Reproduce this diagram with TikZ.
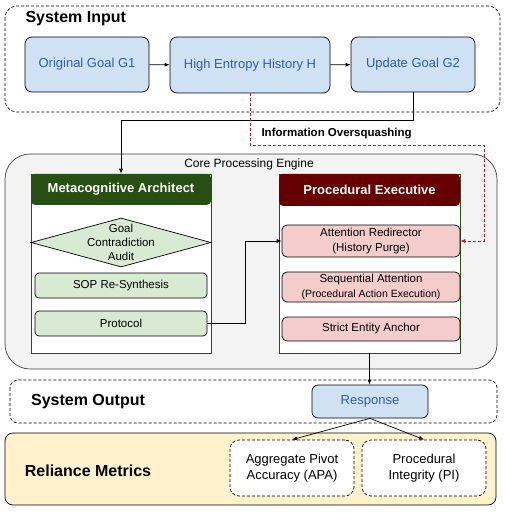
\documentclass[tikz,border=0pt]{standalone}
\usepackage{fontspec}
\setmainfont{Liberation Sans}
\usetikzlibrary{arrows.meta,shapes.geometric,positioning}

\definecolor{inblue}{HTML}{CFE2F3}
\definecolor{intext}{HTML}{2B5EA6}
\definecolor{metagreen}{HTML}{274E13}
\definecolor{lightgreen}{HTML}{D9EAD3}
\definecolor{procred}{HTML}{660000}
\definecolor{lightred}{HTML}{F4CCCC}
\definecolor{coregray}{HTML}{F3F3F3}
\definecolor{metricyellow}{HTML}{FFF2CC}
\definecolor{squashred}{HTML}{B41E1E}

\tikzset{
  fs/.style={font=\fontsize{#1}{14}\selectfont},
  arr/.style={-{Latex[length=5pt,width=4pt]}, line width=0.7pt},
  dashbox/.style={draw, dash pattern=on 3pt off 2pt, line width=0.7pt},
  inputbox/.style={draw, fill=inblue, text=intext, rounded corners=7pt,
    line width=0.7pt, font=\fontsize{13}{15}\selectfont},
  panel/.style={draw=metagreen, fill=white, line width=0.7pt,
    minimum height=179pt, inner sep=0pt},
  header/.style={rounded corners=4pt, text=white, anchor=north,
    font=\bfseries\fontsize{13}{15}\selectfont},
  metastep/.style={draw, fill=lightgreen, rounded corners=4pt, line width=0.7pt,
    minimum width=172pt, minimum height=25pt, font=\fontsize{11.5}{14}\selectfont},
  procstep/.style={draw, fill=lightred, rounded corners=5pt, line width=0.7pt,
    minimum width=178pt, align=center, inner sep=1pt,
    font=\fontsize{11.5}{14.3}\selectfont},
  metric/.style={dashbox, fill=white, rounded corners=9pt, minimum width=124pt,
    minimum height=56pt, align=center, font=\fontsize{13}{16.7}\selectfont},
  grouptitle/.style={font=\bfseries\fontsize{16}{19}\selectfont},
}

\begin{document}
\begin{tikzpicture}[x=1pt,y=-1pt]
  \useasboundingbox (0,0) rectangle (505,513);

  % system input
  \draw[dashbox, rounded corners=12pt] (5,6) rectangle (500,112);
  \node[grouptitle, anchor=west] (inputtitle) at (22,19) {System Input};
  \node[inputbox, minimum width=124pt, minimum height=55pt] (goalone) at (87,64.5) {Original Goal G1};
  \node[inputbox, minimum width=160pt, minimum height=56pt] (history) at (250,65) {High Entropy History H};
  \node[inputbox, minimum width=124pt, minimum height=55pt] (goaltwo) at (413,64.5) {Update Goal G2};

  % core processing engine
  \draw[fill=coregray, draw=black!75, line width=0.7pt, rounded corners=25pt] (5,154) rectangle (497,369);
  \node[fs=12] (coretitle) at (249,164) {Core Processing Engine};

  \node[panel, minimum width=180pt] (metapanel) at (121,263.5) {};
  \node[header, fill=metagreen, minimum width=180pt, minimum height=31pt] (metahead) at (metapanel.north) {Metacognitive Architect};
  \node[diamond, draw, fill=lightgreen, line width=0.7pt, minimum width=180pt, minimum height=49pt, inner sep=0pt] (audit) at (121,242.5) {};
  \node[align=center, fs=11.5] (audittext) at (audit) {Goal\\Contradiction\\Audit};
  \node[metastep] (resynth) at (121,285.5) {SOP Re-Synthesis};
  \node[metastep] (protocol) at (121,323.5) {Protocol};

  \node[panel, minimum width=181pt] (procpanel) at (369.5,263.5) {};
  \node[header, fill=procred, minimum width=181pt, minimum height=32pt] (prochead) at (procpanel.north) {Procedural Executive};
  \node[procstep, minimum height=32pt] (redirector) at (371,241) {Attention Redirector\\(History Purge)};
  \node[procstep, minimum height=30pt] (sequential) at (371,287) {Sequential Attention\\{\fontsize{10.5}{12}\selectfont(Procedural Action Execution)}};
  \node[procstep, minimum height=24pt] (anchor) at (371,329) {Strict Entity Anchor};

  % system output
  \draw[dashbox, rounded corners=8pt] (10,380) rectangle (497,423);
  \node[grouptitle] (outputtitle) at (88,402) {System Output};
  \node[inputbox, rounded corners=6pt, minimum width=116pt, minimum height=33pt] (response) at (370,401.5) {Response};

  % reliance metrics
  \draw[fill=metricyellow, line width=0.7pt, rounded corners=8pt] (5,433) rectangle (496,505);
  \node[grouptitle] (metricstitle) at (88,471) {Reliance Metrics};
  \node[metric] (apa) at (292,468) {Aggregate Pivot\\Accuracy (APA)};
  \node[metric] (pi) at (424,468) {Procedural\\Integrity (PI)};

  % connectors
  \draw[arr] (goalone) -- (history);
  \draw[arr] (history) -- (goaltwo);
  \draw[arr] (goaltwo.south) -- ++(0,28) -| (metahead.north);
  \draw[arr, squashred, dash pattern=on 3pt off 2pt] (history.south) -- ++(0,52) -| ([xshift=24pt]redirector.east) -- (redirector.east);
  \node[font=\bfseries\fontsize{11.5}{14}\selectfont, anchor=west] (squashlabel) at (258,134) {Information Oversquashing};
  \draw[arr] (protocol.east) -- ++(38,0) |- (redirector.west);
  \draw[arr] (procpanel.south) -- (procpanel.south |- response.north);
  \draw[arr] (response.south) -- (apa.north);
  \draw[arr] (response.south) -- (pi.north);
\end{tikzpicture}
\end{document}
